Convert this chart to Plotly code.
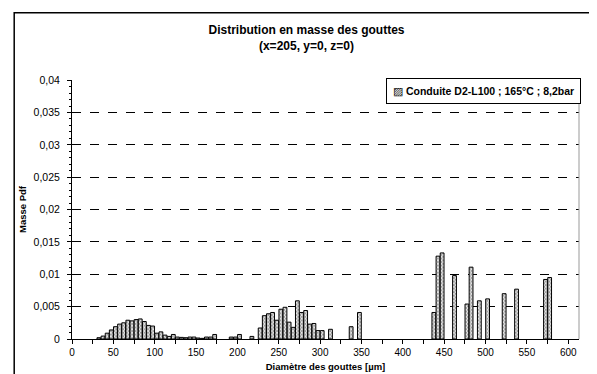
import plotly.graph_objects as go

# Distribution en masse des gouttes - centres des classes (µm) et masse pdf
diametre = [32.5, 37.5, 42.5, 47.5, 52.5, 57.5, 62.5, 67.5, 72.5, 77.5,
            82.5, 87.5, 92.5, 97.5, 102.5, 107.5, 112.5, 117.5, 122.5, 127.5,
            132.5, 137.5, 142.5, 147.5, 152.5, 157.5, 162.5, 167.5, 172.5,
            192.5, 197.5, 202.5, 217.5,
            227.5, 232.5, 237.5, 242.5, 247.5, 252.5, 257.5, 262.5, 267.5, 272.5,
            277.5, 282.5, 287.5, 292.5, 297.5, 302.5, 312.5, 337.5, 347.5,
            437.5, 442.5, 447.5, 462.5, 477.5, 482.5, 492.5, 502.5, 522.5, 537.5,
            572.5, 577.5]
masse = [0.0002, 0.00045, 0.0009, 0.0014, 0.0019, 0.0023, 0.0025, 0.0029, 0.0028, 0.0030,
         0.0031, 0.0027, 0.0021, 0.0020, 0.0009, 0.0011, 0.0006, 0.0004, 0.0007, 0.0003,
         0.00025, 0.0002, 0.0003, 0.0003, 0.00015, 0.0001, 0.0003, 0.0003, 0.0007,
         0.0003, 0.0003, 0.0007, 0.0004,
         0.0017, 0.0036, 0.0039, 0.0041, 0.0029, 0.0046, 0.0049, 0.0026, 0.0018, 0.0059,
         0.0041, 0.0044, 0.0023, 0.0024, 0.0013, 0.0013, 0.0015, 0.0019, 0.0041,
         0.0041, 0.0128, 0.0133, 0.0098, 0.0054, 0.0111, 0.0059, 0.0062, 0.0070, 0.0077,
         0.0092, 0.0095]

serie = "Conduite D2-L100 ; 165°C ; 8,2bar"
y_ticks = [0, 0.005, 0.01, 0.015, 0.02, 0.025, 0.03, 0.035, 0.04]
x_ticks = [0, 50, 100, 150, 200, 250, 300, 350, 400, 450, 500, 550, 600]

font = "Liberation Sans, Arial, sans-serif"

fig = go.Figure(go.Bar(
    x=diametre, y=masse, name=serie, showlegend=False,
    width=4.6,
    marker=dict(color="white",
                line=dict(color="black", width=1),
                pattern=dict(shape="x", size=2.5, solidity=0.6,
                             fgcolor="#333333", bgcolor="white")),
))

# legend box drawn like the Excel one (small hatched square + bold label)
fig.add_annotation(xref="paper", yref="paper", x=1.004, y=1.006,
                   xanchor="right", yanchor="top",
                   text="▨ <b>" + serie + "</b>", showarrow=False,
                   font=dict(size=10.5), align="left",
                   bgcolor="white", bordercolor="black", borderwidth=1, borderpad=6)

fig.update_layout(
    width=597, height=374,
    margin=dict(l=64, r=26, t=72, b=43),
    paper_bgcolor="white", plot_bgcolor="white",
    separators=", ",
    font=dict(family=font, size=10, color="black"),
    title=dict(text="<b>Distribution en masse des gouttes<br>(x=205, y=0, z=0)</b>",
               x=0.5, xref="container", xanchor="center", y=0.93, yanchor="middle",
               font=dict(size=12)),
    xaxis=dict(range=[0, 613], tickvals=x_ticks, showgrid=False,
               showline=True, linecolor="black", linewidth=1,
               ticks="outside", ticklen=4, tickcolor="black",
               minor=dict(dtick=25, ticks="outside", ticklen=4, tickcolor="black"),
               tickfont=dict(size=10),
               title=dict(text="<b>Diamètre des gouttes [µm]</b>", font=dict(size=9.5), standoff=6),
               zeroline=False, automargin=False),
    yaxis=dict(range=[0, 0.04002], tickvals=y_ticks,
               showgrid=True, gridcolor="black", griddash="dash", gridwidth=1,
               showline=True, linecolor="black", linewidth=1,
               ticks="outside", ticklen=4, tickcolor="black",
               minor=dict(dtick=0.001, ticks="outside", ticklen=2, tickcolor="black", showgrid=False),
               tickfont=dict(size=10.5), ticklabelstandoff=5,
               title=dict(text="<b>Masse Pdf</b>", font=dict(size=9.5), standoff=5),
               zeroline=False, automargin=False),
    shapes=[dict(type="rect", xref="paper", yref="paper",
                 x0=-0.114, x1=1.041, y0=-0.3, y1=1.26,
                 line=dict(color="black", width=1.5), fillcolor="rgba(0,0,0,0)"),
            dict(type="line", xref="paper", yref="paper",
                 x0=1, x1=1, y0=0, y1=1,
                 line=dict(color="#999999", width=1))],
)

fig.write_html("out.html")
